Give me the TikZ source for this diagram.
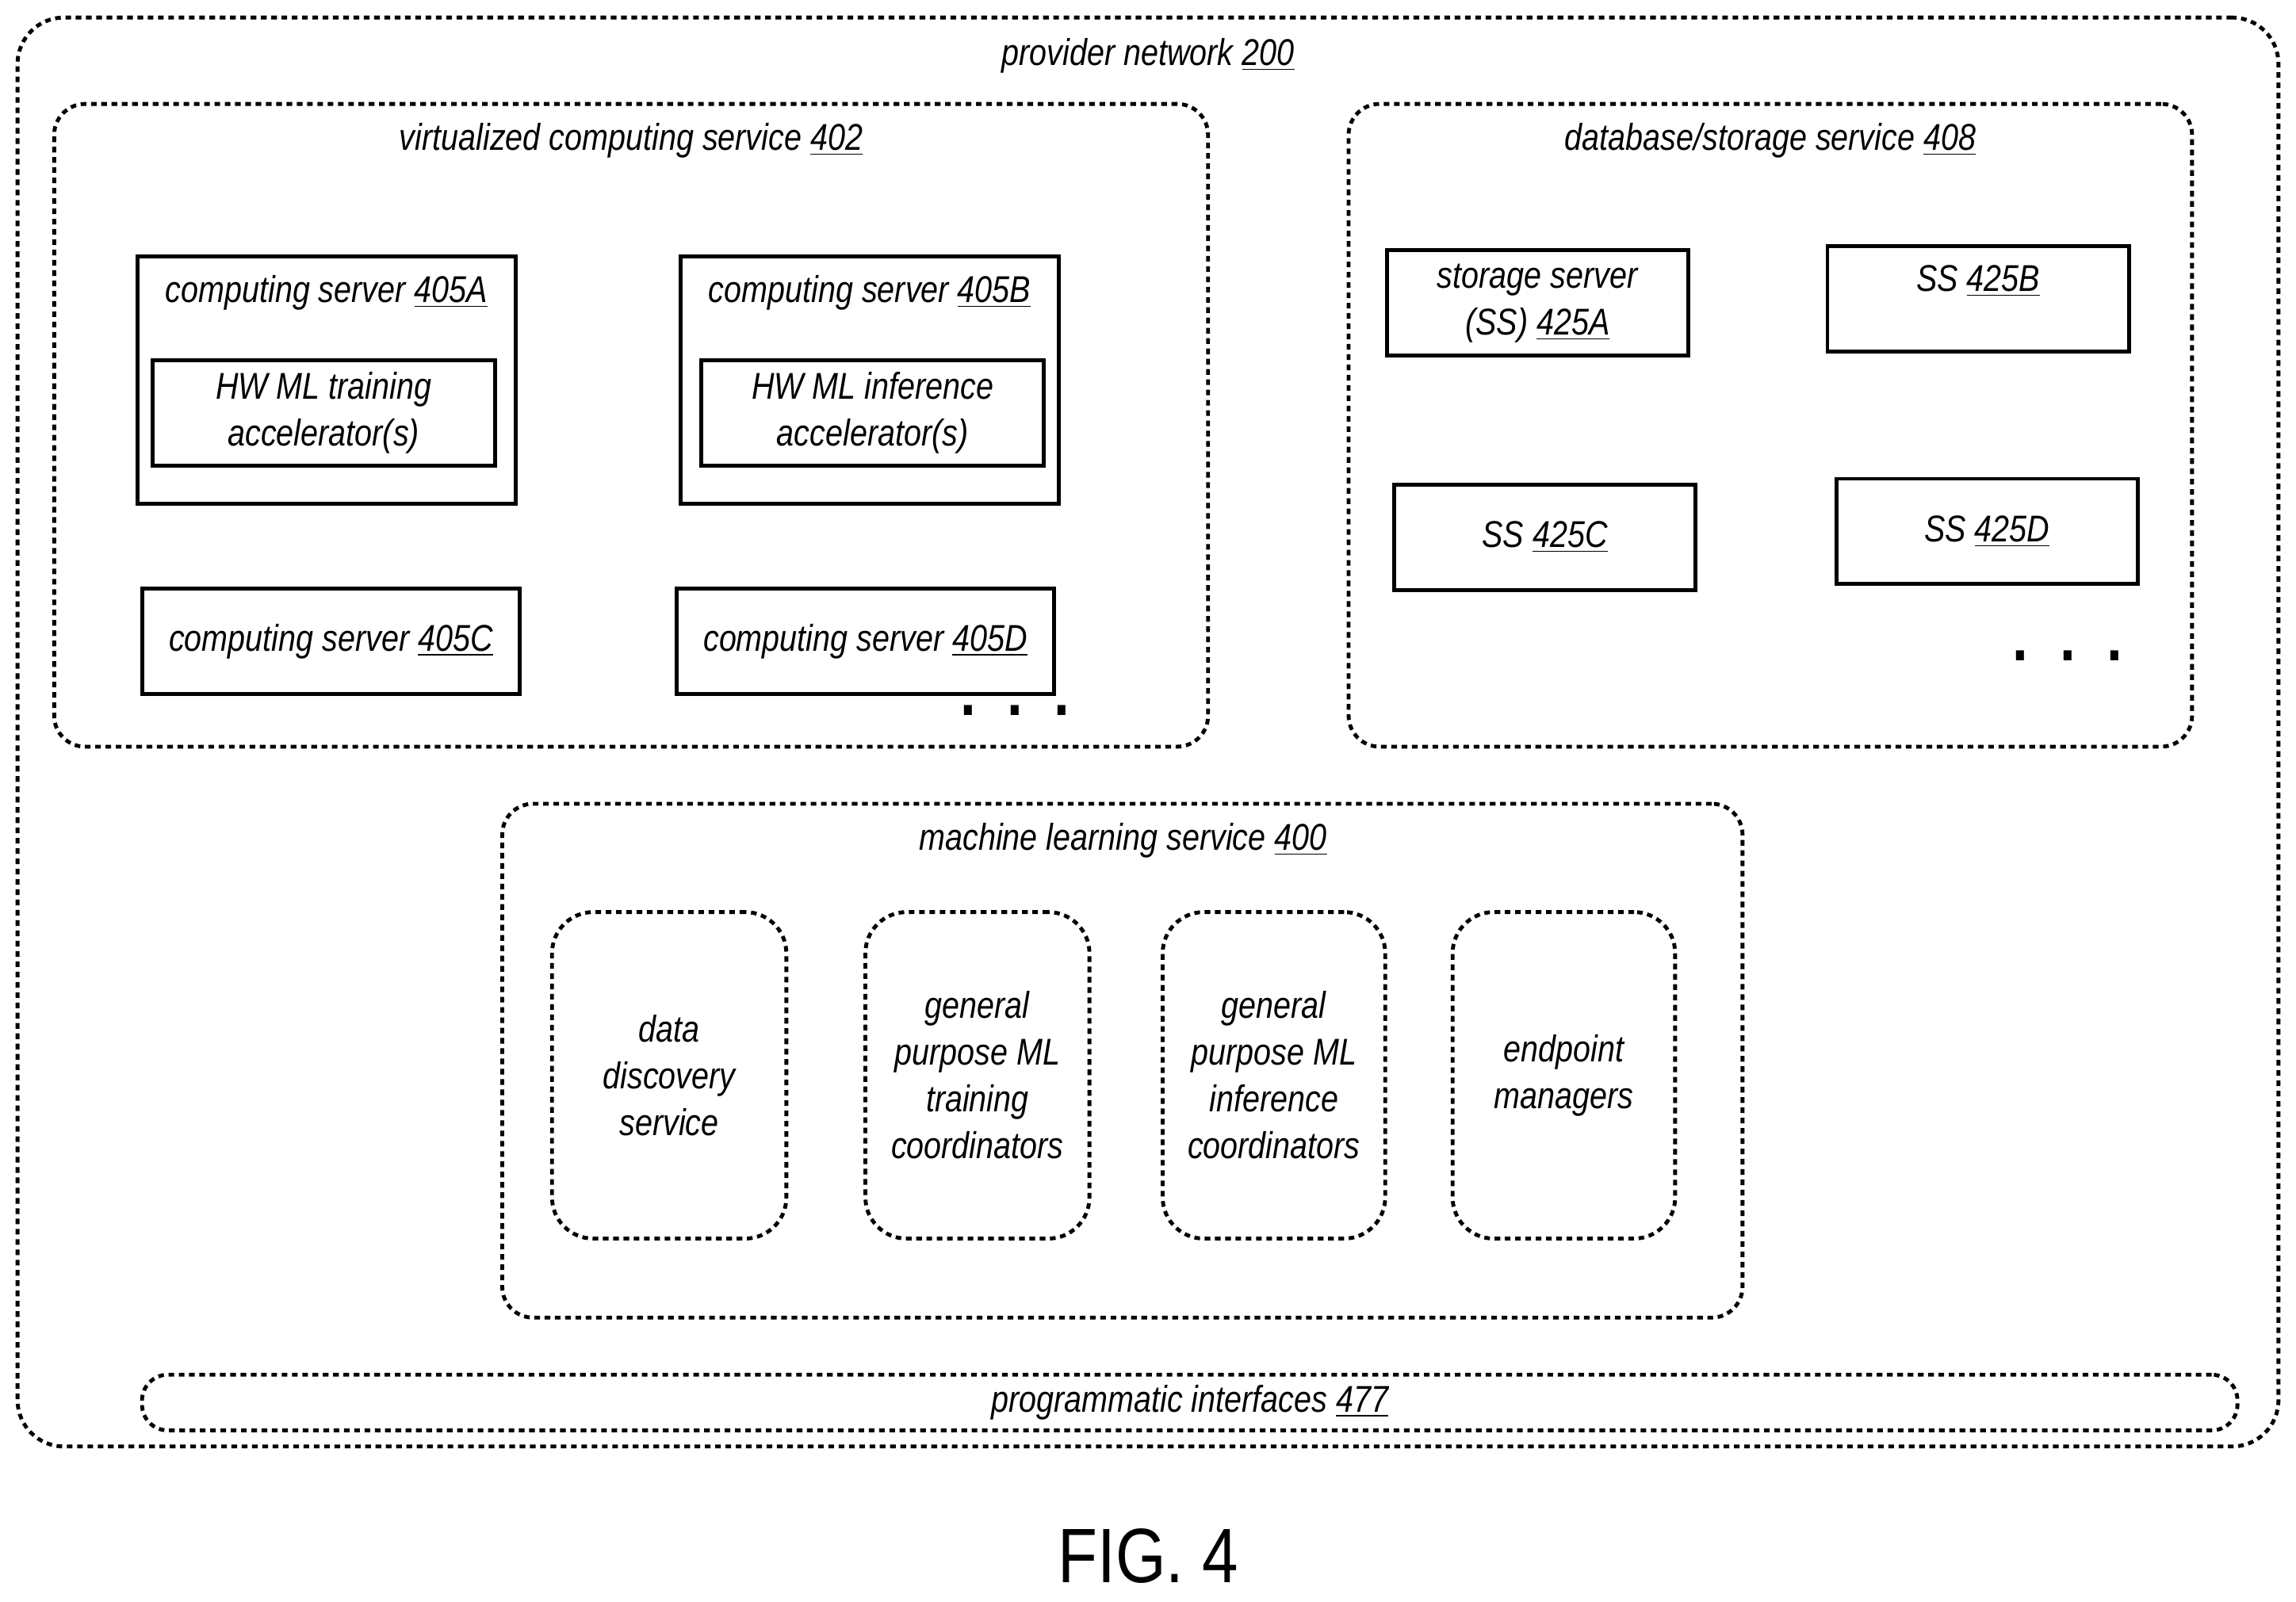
\documentclass[tikz,border=0pt]{standalone}
\usepackage{fontspec}
\setmainfont{Liberation Sans}[FakeStretch=0.84]
\usetikzlibrary{positioning}
\tikzset{
  solidbox/.style={draw, line width=1.5pt, inner sep=0pt},
  dotbox/.style={draw, line width=1.5pt, dash pattern=on 2.2pt off 1.8pt, rounded corners=12pt, inner sep=0pt},
  lbl/.style={font=\fontsize{14.5}{18.2}\selectfont\itshape, align=center, inner sep=0pt},
  dots/.style={font=\fontsize{26}{26}\selectfont\bfseries, inner sep=0pt},
}
\newcommand{\rbox}[6]{% style, name, x1, y1, x2, y2
  \node[#1, minimum width={(#5-#3)*0.02cm}, minimum height={(#6-#4)*0.02cm}] (#2) at ({(#3+#5)/2},{(#4+#6)/2}) {};}
\begin{document}
\begin{tikzpicture}[x=0.02cm, y=-0.02cm]
  \useasboundingbox (0,0) rectangle (1568,1094);

  % provider network
  \rbox{dotbox, rounded corners=18pt}{pn}{12}{12}{1556}{988}
  \node[lbl] (pnl) at (784,38) {provider network \underline{200}};

  % virtualized computing service
  \rbox{dotbox}{vcs}{37}{71}{825}{510}
  \node[lbl] (vcsl) at (431,96) {virtualized computing service \underline{402}};
  \rbox{solidbox}{csa}{94}{175}{352}{344}
  \node[lbl] at (223,200) {computing server \underline{405A}};
  \rbox{solidbox}{hwa}{104}{246}{338}{318}
  \node[lbl] at (hwa) {HW ML training\\accelerator(s)};
  \rbox{solidbox}{csb}{465}{175}{723}{344}
  \node[lbl] at (594,200) {computing server \underline{405B}};
  \rbox{solidbox}{hwb}{479}{246}{713}{318}
  \node[lbl] at (hwb) {HW ML inference\\accelerator(s)};
  \rbox{solidbox}{csc}{97}{402}{355}{474}
  \node[lbl] at (csc) {computing server \underline{405C}};
  \rbox{solidbox}{csd}{462}{402}{720}{474}
  \node[lbl] at (csd) {computing server \underline{405D}};
  \node[dots] (vdots) at (693,485) {.\ \ .\ \ .};

  % database/storage service
  \rbox{dotbox}{dss}{921}{71}{1497}{510}
  \node[lbl] (dssl) at (1209,96) {database/storage service \underline{408}};
  \rbox{solidbox}{ssa}{947}{171}{1153}{243}
  \node[lbl] at (ssa) {storage server\\(SS) \underline{425A}};
  \rbox{solidbox}{ssb}{1248}{168}{1454}{240}
  \node[lbl] at (1351,192) {SS \underline{425B}};
  \rbox{solidbox}{ssc}{952}{331}{1158}{403}
  \node[lbl] at (ssc) {SS \underline{425C}};
  \rbox{solidbox}{ssd}{1254}{327}{1460}{399}
  \node[lbl] at (ssd) {SS \underline{425D}};
  \node[dots] (sdots) at (1412,448) {.\ \ .\ \ .};

  % machine learning service
  \rbox{dotbox}{mls}{343}{549}{1190}{900}
  \node[lbl] (mlsl) at (767,574) {machine learning service \underline{400}};
  \rbox{dotbox, rounded corners=16pt}{dds}{377}{623}{537}{846}
  \node[lbl] at (dds) {data\\discovery\\service};
  \rbox{dotbox, rounded corners=16pt}{gtc}{591}{623}{744}{846}
  \node[lbl] at (gtc) {general\\purpose ML\\training\\coordinators};
  \rbox{dotbox, rounded corners=16pt}{gic}{794}{623}{946}{846}
  \node[lbl] at (gic) {general\\purpose ML\\inference\\coordinators};
  \rbox{dotbox, rounded corners=16pt}{epm}{992}{623}{1144}{846}
  \node[lbl] at (epm) {endpoint\\managers};

  % programmatic interfaces
  \rbox{dotbox, rounded corners=10pt}{pi}{97}{939}{1528}{977}
  \node[lbl] at (pi) {programmatic interfaces \underline{477}};

  \node[font=\fontsize{30}{34}\selectfont] (fig) at (784,1063) {FIG. 4};
\end{tikzpicture}
\end{document}
